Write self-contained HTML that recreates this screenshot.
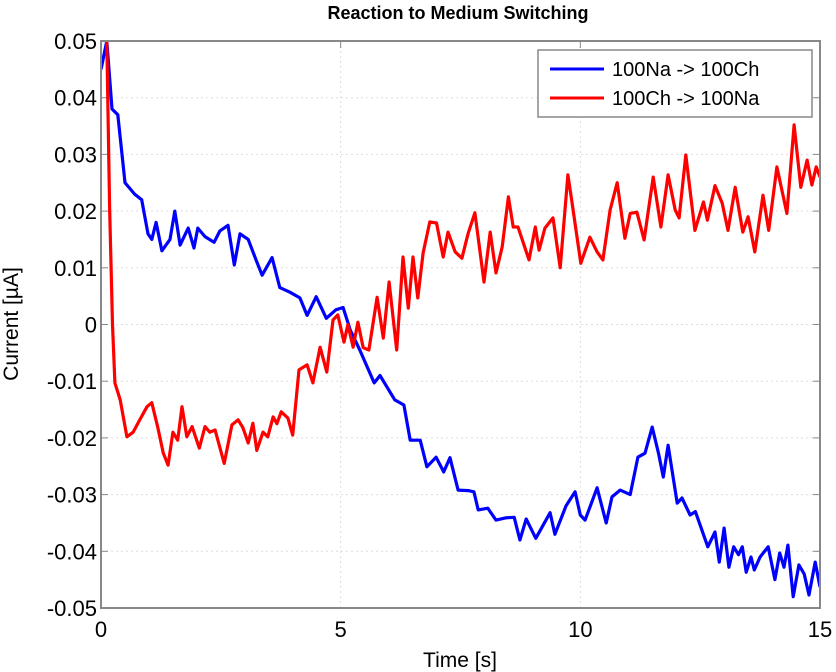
<!DOCTYPE html>
<html><head><meta charset="utf-8"><style>
html,body{margin:0;padding:0;background:#fff;}
svg{display:block;font-family:"Liberation Sans",Arial,sans-serif;}
</style></head><body>
<svg id="chart" width="836" height="672" viewBox="0 0 836 672">
<defs><clipPath id="clip"><rect x="101" y="41" width="719" height="567"/></clipPath></defs>
<rect x="0" y="0" width="836" height="672" fill="#fff"/>
<text x="458" y="19" text-anchor="middle" font-size="18" font-weight="bold">Reaction to Medium Switching</text>
<g id="grid"></g>
<g id="axes"></g>
<g id="series" clip-path="url(#clip)"></g>
<rect x="101" y="41" width="719" height="567" fill="none" stroke="#888" stroke-width="2"/>
<text x="18" y="324" transform="rotate(-90 18 324)" text-anchor="middle" font-size="21">Current [µA]</text>
<text x="460" y="667" text-anchor="middle" font-size="21">Time [s]</text>
<g>
<rect x="538" y="50" width="274" height="67" fill="#fff" stroke="#888" stroke-width="1.5"/>
<line x1="550" y1="69" x2="604" y2="69" stroke="#0000ff" stroke-width="3"/>
<text x="612" y="76" font-size="20">100Na -&gt; 100Ch</text>
<line x1="550" y1="98" x2="604" y2="98" stroke="#ff0000" stroke-width="3"/>
<text x="612" y="105" font-size="20">100Ch -&gt; 100Na</text>
</g>
</svg>
<script>
const xTicks = [0, 5, 10, 15];
const yTicks = [0.05, 0.04, 0.03, 0.02, 0.01, 0, -0.01, -0.02, -0.03, -0.04, -0.05];
const yTickLabels = ["0.05","0.04","0.03","0.02","0.01","0","-0.01","-0.02","-0.03","-0.04","-0.05"];
const blueT = [0,0.12,0.23,0.35,0.5,0.7,0.85,0.98,1.06,1.15,1.27,1.44,1.54,1.65,1.82,1.94,2.02,2.17,2.36,2.48,2.65,2.78,2.9,3.07,3.23,3.36,3.57,3.73,3.94,4.15,4.3,4.49,4.7,4.9,5.05,5.2,5.4,5.7,5.82,6.13,6.32,6.45,6.66,6.8,6.99,7.15,7.28,7.45,7.66,7.78,7.87,8.07,8.24,8.45,8.62,8.74,8.87,9.07,9.37,9.47,9.7,9.89,10.0,10.1,10.35,10.54,10.66,10.83,11.04,11.2,11.35,11.5,11.63,11.73,11.83,12.02,12.12,12.29,12.4,12.66,12.81,12.9,13.0,13.1,13.2,13.3,13.38,13.46,13.56,13.63,13.75,13.92,14.06,14.16,14.25,14.33,14.44,14.56,14.67,14.77,14.9,15.0];
const blueV = [0.045,0.05,0.038,0.037,0.025,0.023,0.022,0.016,0.015,0.018,0.013,0.015,0.020,0.014,0.017,0.0135,0.017,0.0155,0.0145,0.0165,0.0175,0.0105,0.016,0.015,0.0115,0.0087,0.0118,0.0065,0.0057,0.0047,0.0016,0.0049,0.0011,0.0026,0.003,-0.001,-0.0045,-0.0103,-0.009,-0.0133,-0.0142,-0.0204,-0.0204,-0.0251,-0.0234,-0.026,-0.0235,-0.0292,-0.0293,-0.0295,-0.0327,-0.0324,-0.0345,-0.0341,-0.034,-0.038,-0.0343,-0.0377,-0.0332,-0.037,-0.032,-0.0295,-0.0336,-0.0345,-0.0288,-0.035,-0.0304,-0.0292,-0.030,-0.0234,-0.0227,-0.0181,-0.0227,-0.0269,-0.0213,-0.0315,-0.0306,-0.0336,-0.033,-0.0392,-0.0366,-0.0419,-0.0359,-0.0428,-0.0392,-0.0406,-0.0392,-0.0437,-0.041,-0.0433,-0.041,-0.0392,-0.045,-0.0403,-0.0428,-0.0389,-0.048,-0.0424,-0.044,-0.0477,-0.0419,-0.0463];
const redT = [0.12,0.18,0.24,0.29,0.4,0.54,0.67,0.81,0.96,1.06,1.18,1.3,1.4,1.5,1.6,1.69,1.79,1.9,2.05,2.17,2.27,2.38,2.57,2.73,2.86,2.96,3.07,3.17,3.25,3.38,3.48,3.59,3.67,3.76,3.9,4.0,4.13,4.3,4.42,4.57,4.71,4.84,4.94,5.07,5.15,5.26,5.36,5.47,5.59,5.76,5.89,6.01,6.17,6.3,6.41,6.51,6.61,6.72,6.86,7.0,7.14,7.24,7.39,7.53,7.66,7.8,7.99,8.12,8.24,8.37,8.5,8.6,8.7,8.93,9.06,9.14,9.26,9.43,9.58,9.74,9.84,10.01,10.2,10.35,10.47,10.62,10.77,10.93,11.04,11.18,11.33,11.52,11.68,11.83,11.98,12.06,12.2,12.39,12.57,12.65,12.81,12.96,13.08,13.23,13.39,13.5,13.64,13.81,13.93,14.1,14.31,14.46,14.6,14.73,14.83,14.92,15.0];
const redV = [0.05,0.0207,0.0,-0.0103,-0.0133,-0.0198,-0.019,-0.0168,-0.0145,-0.0138,-0.018,-0.0227,-0.0248,-0.019,-0.0204,-0.0145,-0.0198,-0.018,-0.0218,-0.018,-0.019,-0.0186,-0.0245,-0.0177,-0.0168,-0.0182,-0.0209,-0.0174,-0.0222,-0.019,-0.0198,-0.0163,-0.0175,-0.0154,-0.0165,-0.0195,-0.008,-0.0071,-0.0103,-0.004,-0.0084,0.0008,0.0017,-0.0031,0.0,-0.004,0.0004,-0.0041,-0.0045,0.0048,-0.0024,0.0075,-0.0045,0.0119,0.0029,0.0119,0.0047,0.0126,0.0181,0.0179,0.0119,0.0163,0.0128,0.0117,0.0161,0.0197,0.0075,0.0163,0.0091,0.0137,0.0225,0.0172,0.0172,0.0114,0.0172,0.0131,0.017,0.0188,0.010,0.0264,0.0207,0.0108,0.0154,0.0128,0.0114,0.0202,0.025,0.0152,0.0196,0.0198,0.0149,0.026,0.0172,0.0264,0.0202,0.0188,0.0299,0.0166,0.0216,0.0184,0.0245,0.0214,0.0166,0.0242,0.0163,0.019,0.0128,0.0228,0.0166,0.0278,0.0196,0.0352,0.0242,0.029,0.0246,0.0278,0.026];

const NS = "http://www.w3.org/2000/svg";
const X0 = 101, X1 = 820, Y0 = 41, Y1 = 608;
function xScale(t){ return X0 + (t - 0) / 15 * (X1 - X0); }
function yScale(v){ return Y1 - (v + 0.05) / 0.1 * (Y1 - Y0); }

const grid = document.getElementById('grid');
const axes = document.getElementById('axes');
yTicks.forEach((v, i) => {
  const y = yScale(v);
  if (i > 0 && i < yTicks.length - 1) {
    const g = document.createElementNS(NS, 'line');
    g.setAttribute('x1', X0); g.setAttribute('x2', X1);
    g.setAttribute('y1', y); g.setAttribute('y2', y);
    g.setAttribute('stroke', '#ddd'); g.setAttribute('stroke-dasharray', '2 3');
    
    
    grid.appendChild(g);
    const tk = document.createElementNS(NS, 'line');
    tk.setAttribute('x1', X0); tk.setAttribute('x2', X0 + 7);
    tk.setAttribute('y1', y); tk.setAttribute('y2', y);
    tk.setAttribute('stroke', '#888');
    
    
    axes.appendChild(tk);
    const tk2 = document.createElementNS(NS, 'line');
    tk2.setAttribute('x1', X1 - 7); tk2.setAttribute('x2', X1);
    tk2.setAttribute('y1', y); tk2.setAttribute('y2', y);
    tk2.setAttribute('stroke', '#888');
    
    
    axes.appendChild(tk2);
  }
  const t = document.createElementNS(NS, 'text');
  t.setAttribute('x', X0 - 4); t.setAttribute('y', y + 8);
  t.setAttribute('text-anchor', 'end'); t.setAttribute('font-size', '22');
  t.textContent = yTickLabels[i];
  
  
  axes.appendChild(t);
});
xTicks.forEach((v) => {
  const x = xScale(v);
  if (v > 0 && v < 15) {
    const g = document.createElementNS(NS, 'line');
    g.setAttribute('x1', x); g.setAttribute('x2', x);
    g.setAttribute('y1', Y0); g.setAttribute('y2', Y1);
    g.setAttribute('stroke', '#ddd'); g.setAttribute('stroke-dasharray', '2 3');
    
    
    grid.appendChild(g);
    const tk = document.createElementNS(NS, 'line');
    tk.setAttribute('x1', x); tk.setAttribute('x2', x);
    tk.setAttribute('y1', Y0); tk.setAttribute('y2', Y0 + 7);
    tk.setAttribute('stroke', '#888');
    
    
    axes.appendChild(tk);
  }
  const t = document.createElementNS(NS, 'text');
  t.setAttribute('x', x); t.setAttribute('y', Y1 + 29);
  t.setAttribute('text-anchor', 'middle'); t.setAttribute('font-size', '22');
  t.textContent = String(v);
  
  
  axes.appendChild(t);
});

function drawLine(ts, vs, color, name){
  const p = document.createElementNS(NS, 'polyline');
  p.setAttribute('points', ts.map((t, i) => xScale(t).toFixed(1) + ',' + yScale(vs[i]).toFixed(1)).join(' '));
  p.setAttribute('fill', 'none'); p.setAttribute('stroke', color);
  p.setAttribute('stroke-width', '3.2'); p.setAttribute('stroke-linejoin', 'round');
  
  
  document.getElementById('series').appendChild(p);
}
drawLine(blueT, blueV, '#0000ff', 'series-na-to-ch');
drawLine(redT, redV, '#ff0000', 'series-ch-to-na');
</script>
</body></html>
